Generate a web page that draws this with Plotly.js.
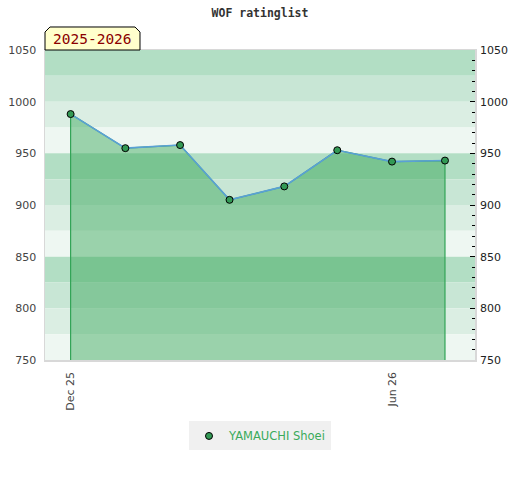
<!DOCTYPE html>
<html>
<head>
<meta charset="utf-8">
<script src="https://cdn.plot.ly/plotly-3.0.1.min.js"></script>
<style>html,body{margin:0;padding:0;background:#fff;}#chart{width:520px;height:480px;}</style>
</head>
<body>
<div id="chart"></div>
<script>
// ---- data ----
const chartTitle = "WOF ratinglist";
const seasonLabel = "2025-2026";
const playerName = "YAMAUCHI Shoei";
const dates = ["2025-12-01","2026-01-01","2026-02-01","2026-03-01","2026-04-01","2026-05-01","2026-06-01","2026-07-01"];
const ratings = [988, 955, 958, 905, 918, 953, 942, 943];
const yMin = 750, yMax = 1050;
const xRange = ["2025-11-16 12:00", "2026-07-18"];

// ---- styles ----
const bandColors = ["#b2dec4", "#c8e6d5", "#dbeee3", "#eef7f2"];
const bandStep = 25;

const shapes = [];
let i = 0;
for (let top = yMax; top > yMin; top -= bandStep, i++) {
  shapes.push({type:"rect", xref:"paper", yref:"y", x0:0, x1:1, y0:top-bandStep, y1:top,
    fillcolor: bandColors[i % bandColors.length], line:{width:0}, layer:"below"});
}
// season tag box with cut top corners
shapes.push({type:"path", xref:"paper", yref:"paper",
  path:"M 0,1 L 0,1.058 L 0.0116,1.0742 L 0.2093,1.0742 L 0.2209,1.058 L 0.2209,1 Z",
  fillcolor:"#ffffcc", line:{color:"#000", width:1}, layer:"above"});

const fillX = [dates[0]].concat(dates, [dates[dates.length-1]]);
const fillY = [yMin].concat(ratings, [yMin]);

const traces = [
  {x: fillX, y: fillY, type:"scatter", mode:"lines", fill:"toself",
   fillcolor:"rgba(50,165,85,0.45)", line:{color:"#33a457", width:1.2},
   hoverinfo:"skip", showlegend:false},
  {x: dates, y: ratings, type:"scatter", mode:"lines",
   line:{color:"#5aa0d6", width:1.6}, showlegend:false},
  {x: dates, y: ratings, type:"scatter", mode:"markers", name: playerName,
   marker:{color:"#339955", size:7, line:{color:"#000", width:1}}, showlegend:true},
  {x: dates, y: ratings, type:"scatter", mode:"markers", yaxis:"y2",
   marker:{opacity:0}, showlegend:false, hoverinfo:"skip"}
];

const layout = {
  width:520, height:480,
  margin:{l:45, r:45, t:50, b:120},
  paper_bgcolor:"#fff", plot_bgcolor:"#fff",
  title:{text: chartTitle, x:0.5, xanchor:"center", y:0.973, yanchor:"middle",
    font:{family:"DejaVu Sans Mono", size:11.5, color:"#333", weight:"bold"}},
  xaxis:{type:"date", range:xRange, tick0:"2025-12-01", dtick:"M6", tickformat:"%b %y",
    tickangle:-90, ticks:"", showgrid:false, zeroline:false,
    showline:true, mirror:true, linecolor:"#d8d8d8", linewidth:1.5,
    ticklabelstandoff:6,
    tickfont:{family:"DejaVu Sans", size:11, color:"#444"}},
  yaxis:{range:[yMin,yMax], dtick:50, ticks:"", showgrid:false, zeroline:false,
    showline:true, mirror:true, linecolor:"#d8d8d8", linewidth:1.5,
    ticklabelstandoff:5,
    tickfont:{family:"DejaVu Sans", size:11, color:"#444"}},
  yaxis2:{range:[yMin,yMax], overlaying:"y", side:"right", dtick:50,
    ticks:"inside", ticklen:5, tickwidth:1, tickcolor:"#000",
    minor:{dtick:10, ticks:"inside", ticklen:3, tickwidth:1, tickcolor:"#000"},
    showgrid:false, zeroline:false, showline:false,
    ticklabelstandoff:4,
    tickfont:{family:"DejaVu Sans", size:11, color:"#222"}},
  shapes: shapes,
  annotations:[{xref:"paper", yref:"paper", x:0.1105, y:1.0355, xanchor:"center", yanchor:"middle",
    text: seasonLabel, showarrow:false,
    font:{family:"DejaVu Sans Mono", size:14.5, color:"#8b0000"}}],
  legend:{orientation:"h", x:0.5, xanchor:"center", y:-0.245, yanchor:"middle",
    bgcolor:"#f0f0f0", itemwidth:30,
    font:{family:"DejaVu Sans", size:11.5, color:"#3aaa5a"}},
  showlegend:true
};

Plotly.newPlot("chart", traces, layout, {displayModeBar:false, staticPlot:true});
</script>
</body>
</html>
